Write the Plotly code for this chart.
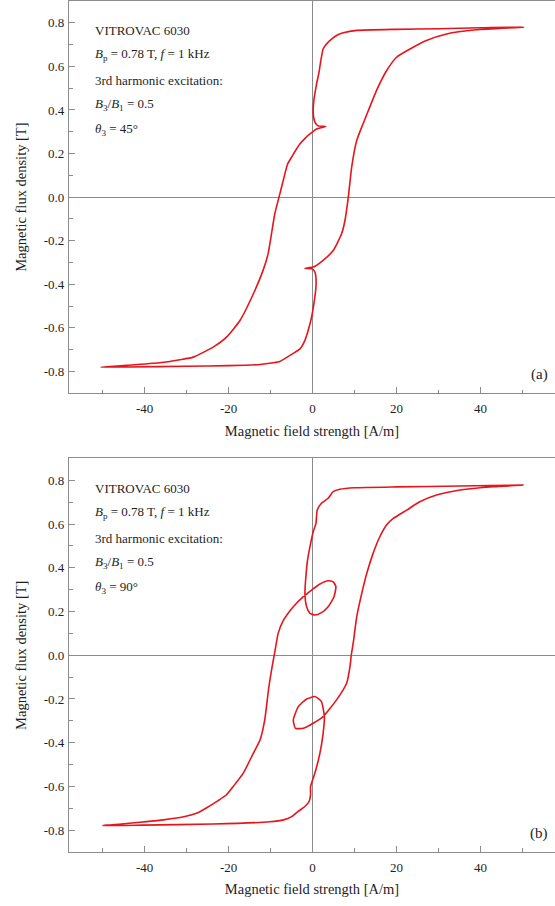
import plotly.graph_objects as go

# ---------------- data ----------------
# (a) theta3 = 45 deg : closed B-H loop, starting at positive tip
H_a = [50.2, 40, 30, 20, 10.5, 7.3, 6.0, 4.5, 3.3, 2.5, 1.9, 1.5, 0.95, 0.3, 0.15, 0.55, 1.3, 3.1,
       0.95, -0.64, -1.8, -3.0, -5.0, -6.0, -6.6, -7.8, -9.0, -10.6, -11.8, -14.1, -17.3, -20.5,
       -23.7, -28.4, -31.6, -36.4, -44.3, -50.4,
       -44, -30, -20, -12.5, -9.4, -7.8, -5.4, -3.0, -1.83, -1.04, -0.24, 0.31, 0.79, 0.79, 0.55,
       -0.1, -1.83, 0.15, 2.5, 4.9, 6.9, 7.7, 8.5, 9.3, 10.5, 12.0, 13.6, 15.2, 17.6, 20.0, 23.2,
       27.1, 31.9, 39.0, 50.2]
B_a = [0.780, 0.777, 0.773, 0.770, 0.765, 0.754, 0.745, 0.725, 0.703, 0.680, 0.620, 0.570, 0.520,
       0.444, 0.383, 0.344, 0.327, 0.324,
       0.313, 0.290, 0.270, 0.245, 0.184, 0.150, 0.107, 0.015, -0.076, -0.260, -0.336, -0.443,
       -0.566, -0.642, -0.688, -0.734, -0.746, -0.760, -0.772, -0.780,
       -0.779, -0.776, -0.773, -0.768, -0.760, -0.754, -0.726, -0.696, -0.657, -0.611, -0.550,
       -0.489, -0.413, -0.367, -0.344, -0.329, -0.326, -0.321, -0.290, -0.245, -0.168, -0.107,
       0.000, 0.138, 0.260, 0.336, 0.413, 0.489, 0.580, 0.642, 0.680, 0.719, 0.749, 0.768, 0.780]

# (b) theta3 = 90 deg
H_b = [50.1, 35, 20, 10, 6.5, 4.9, 3.7, 2.1, 1.1, 0.8, 0.15, -0.64, -1.2, -1.6, -1.83, -1.43,
       -0.64, 0.55, 2.1, 3.7, 5.1, 5.55, 4.9, 3.7, 1.74, -0.24, -2.2, -4.6, -7.0, -8.2, -9.0,
       -9.5, -10.4, -11.4, -12.5, -14.1, -16.5, -18.9, -20.5, -22.5, -25.4, -27.5, -30.4, -35.5,
       -40.5, -45.5, -50.0,
       -40.5, -23.7, -10.25, -6.9, -5.0, -3.5, -1.85, -0.84, -0.5, -0.48, 0.55, 1.74, 2.5, 2.8,
       2.1, 0.55, -1.43, -3.4, -4.6, -4.1, -2.2, 0.15, 2.5, 5.7, 8.1, 8.9, 9.2, 9.7, 10.5, 11.7,
       12.9, 14.4, 16.0, 17.6, 19.2, 22.4, 25.5, 29.5, 35.1, 43.0, 50.1]
B_b = [0.778, 0.774, 0.770, 0.766, 0.759, 0.748, 0.718, 0.695, 0.664, 0.603, 0.565, 0.496, 0.436,
       0.360, 0.283, 0.222, 0.192, 0.184, 0.195, 0.222, 0.268, 0.314, 0.336, 0.341, 0.326, 0.298,
       0.268, 0.222, 0.158, 0.100, 0.015, -0.037, -0.143, -0.296, -0.387, -0.448, -0.539, -0.600,
       -0.638, -0.665, -0.700, -0.722, -0.738, -0.753, -0.763, -0.772, -0.779,
       -0.777, -0.772, -0.762, -0.753, -0.738, -0.715, -0.692, -0.669, -0.640, -0.600, -0.539,
       -0.448, -0.357, -0.281, -0.212, -0.189, -0.200, -0.235, -0.296, -0.334, -0.334, -0.311,
       -0.281, -0.204, -0.128, -0.052, 0.000, 0.060, 0.176, 0.283, 0.375, 0.466, 0.542, 0.596,
       0.626, 0.664, 0.702, 0.733, 0.756, 0.771, 0.778]

X_TICKS = [-40, -20, 0, 20, 40]
X_LABELS = ["-40", "-20", "0", "20", "40"]
X_MINOR = [-50, -30, -10, 10, 30, 50]
Y_TICKS = [-0.8, -0.6, -0.4, -0.2, 0.0, 0.2, 0.4, 0.6, 0.8]
Y_LABELS = ["-0.8", "-0.6", "-0.4", "-0.2", "0.0", "0.2", "0.4", "0.6", "0.8"]
Y_MINOR = [-0.9, -0.7, -0.5, -0.3, -0.1, 0.1, 0.3, 0.5, 0.7, 0.9]

X_TITLE = "Magnetic field strength [A/m]"
Y_TITLE = "Magnetic flux density [T]"
INFO_A = ["VITROVAC 6030",
          "<i>B</i><sub>p</sub> = 0.78 T, <i>f</i> = 1 kHz",
          "3rd harmonic excitation:",
          "<i>B</i><sub>3</sub>/<i>B</i><sub>1</sub> = 0.5",
          "<i>θ</i><sub>3</sub> = 45°"]
INFO_B = INFO_A[:4] + ["<i>θ</i><sub>3</sub> = 90°"]
PANELS = ["(a)", "(b)"]

# ---------------- style ----------------
RED = "#e8141b"
FRAME = "#8c8c8c"
ZERO = "#8a8a8a"
TXT = "#1e1e1e"
FONT = "Liberation Serif, Times New Roman, DejaVu Serif, serif"

fig = go.Figure()
fig.add_trace(go.Scatter(x=H_a, y=B_a, mode="lines", xaxis="x", yaxis="y",
                         line=dict(color=RED, width=1.6, shape="spline", smoothing=0.5),
                         showlegend=False, hoverinfo="skip"))
fig.add_trace(go.Scatter(x=H_b, y=B_b, mode="lines", xaxis="x2", yaxis="y2",
                         line=dict(color=RED, width=1.6, shape="spline", smoothing=0.5),
                         showlegend=False, hoverinfo="skip"))


def xax(anchor):
    return dict(domain=[0, 1], anchor=anchor, range=[-58, 57.71], autorange=False,
                tickvals=X_TICKS, ticktext=X_LABELS, ticks="inside", ticklen=6, tickwidth=1,
                tickcolor=FRAME,
                minor=dict(tickvals=X_MINOR, ticks="inside", ticklen=3.5, tickwidth=1,
                           tickcolor=FRAME, showgrid=False),
                showline=True, linecolor=FRAME, linewidth=1.3, mirror=True,
                zeroline=True, zerolinecolor=ZERO, zerolinewidth=1, showgrid=False,
                tickfont=dict(family=FONT, size=13, color=TXT), ticklabelstandoff=3,
                title=dict(text=X_TITLE, font=dict(family=FONT, size=14.5, color=TXT),
                           standoff=10),
                automargin=False, fixedrange=True)


def yax(anchor, domain):
    return dict(domain=domain, anchor=anchor, range=[-0.9, 0.9], autorange=False,
                tickvals=Y_TICKS, ticktext=Y_LABELS, ticks="inside", ticklen=6, tickwidth=1,
                tickcolor=FRAME,
                minor=dict(tickvals=Y_MINOR, ticks="inside", ticklen=3.5, tickwidth=1,
                           tickcolor=FRAME, showgrid=False),
                showline=True, linecolor=FRAME, linewidth=1.3, mirror=False,
                zeroline=True, zerolinecolor=ZERO, zerolinewidth=1, showgrid=False,
                tickfont=dict(family=FONT, size=13, color=TXT), ticklabelstandoff=1,
                title=dict(text=Y_TITLE, font=dict(family=FONT, size=14.5, color=TXT),
                           standoff=13),
                automargin=False, fixedrange=True)


annots = []
line_y = [0.765, 0.655, 0.535, 0.425, 0.310]
for xr, yr, info, panel in (("x", "y", INFO_A, PANELS[0]), ("x2", "y2", INFO_B, PANELS[1])):
    for txt, yy in zip(info, line_y):
        annots.append(dict(x=-52.4, y=yy, xref=xr, yref=yr, text=txt, showarrow=False,
                           xanchor="left", yanchor="middle",
                           font=dict(family=FONT, size=13, color=TXT)))
    annots.append(dict(x=54.0, y=-0.815, xref=xr, yref=yr, text=panel, showarrow=False,
                       xanchor="center", yanchor="middle",
                       font=dict(family=FONT, size=15, color=TXT)))

fig.update_layout(
    template="none",
    width=555, height=906,
    margin=dict(l=69, r=0, t=1, b=54, pad=0),
    paper_bgcolor="white", plot_bgcolor="white",
    font=dict(family=FONT, color=TXT),
    xaxis=xax("y"), yaxis=yax("x", [0.539, 1.0]),
    xaxis2=xax("y2"), yaxis2=yax("x2", [0.0, 0.4624]),
    annotations=annots,
    showlegend=False,
)

fig.write_html("out.html", config={"displayModeBar": False},
               post_script="document.body.style.margin='0';document.body.style.overflow='hidden';")
